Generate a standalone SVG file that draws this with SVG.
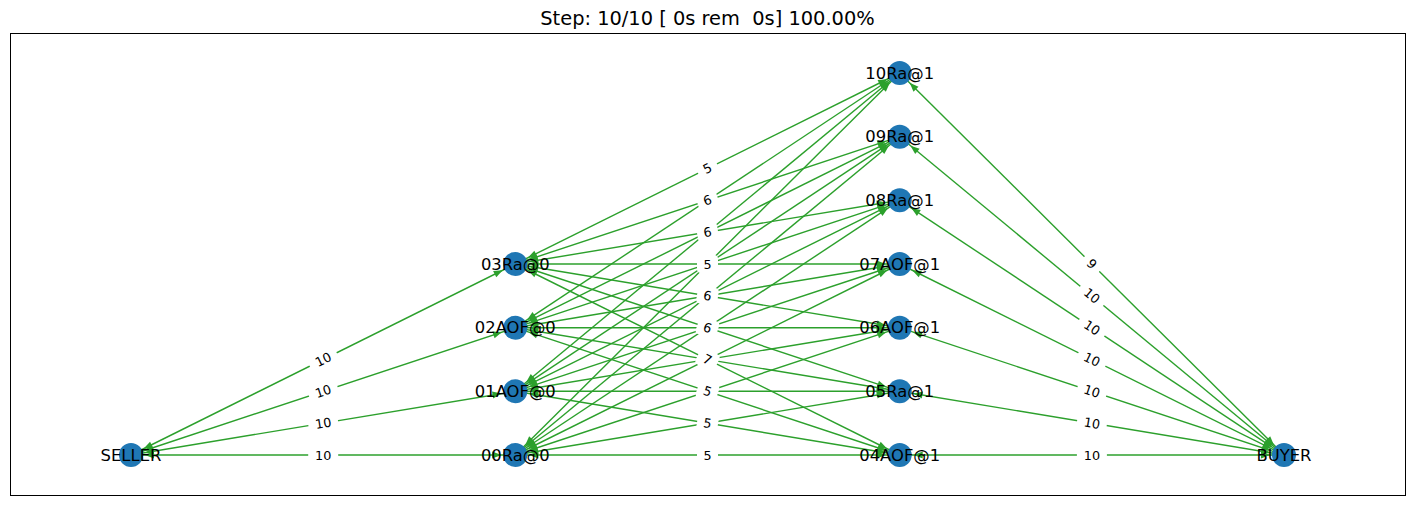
<svg xmlns="http://www.w3.org/2000/svg" width="1415" height="505" viewBox="0 0 1415 505">
<style>
.e{stroke:#2ca02c;stroke-width:1.4;fill:none;marker-start:url(#ah);marker-end:url(#ah)}
.n{fill:#1f77b4}
.nl{font-family:"DejaVu Sans","Liberation Sans",sans-serif;font-size:16.4px;fill:#000;text-anchor:middle;dominant-baseline:central}
.el text{font-family:"DejaVu Sans","Liberation Sans",sans-serif;font-size:12.8px;fill:#000;text-anchor:middle;dominant-baseline:central}
.el rect{fill:#fff}
.title{font-family:"DejaVu Sans","Liberation Sans",sans-serif;font-size:19.4px;fill:#000;text-anchor:middle;white-space:pre}
</style>
<defs>
<marker id="ah" markerUnits="userSpaceOnUse" markerWidth="24" markerHeight="8" refX="23" refY="3.5" orient="auto-start-reverse" overflow="visible">
<path d="M0,0 L9,3.5 L0,7 z" fill="#2ca02c"/>
</marker>
</defs>
<rect width="1415" height="505" fill="#fff"/>
<text class="title" x="707.5" y="25" xml:space="preserve">Step: 10/10 [ 0s rem  0s] 100.00%</text>
<rect x="10.5" y="33.5" width="1395" height="462" fill="none" stroke="#000" stroke-width="1"/>
<g id="edges">
<line class="e" x1="131" y1="455" x2="515.3" y2="455"/>
<line class="e" x1="131" y1="455" x2="515.3" y2="391.3"/>
<line class="e" x1="131" y1="455" x2="515.3" y2="327.7"/>
<line class="e" x1="131" y1="455" x2="515.3" y2="264"/>
<line class="e" x1="515.3" y1="455" x2="899.7" y2="455"/>
<line class="e" x1="515.3" y1="455" x2="899.7" y2="391.3"/>
<line class="e" x1="515.3" y1="455" x2="899.7" y2="327.7"/>
<line class="e" x1="515.3" y1="455" x2="899.7" y2="264"/>
<line class="e" x1="515.3" y1="455" x2="899.7" y2="200.3"/>
<line class="e" x1="515.3" y1="455" x2="899.7" y2="136.7"/>
<line class="e" x1="515.3" y1="455" x2="899.7" y2="73"/>
<line class="e" x1="515.3" y1="391.3" x2="899.7" y2="455"/>
<line class="e" x1="515.3" y1="391.3" x2="899.7" y2="391.3"/>
<line class="e" x1="515.3" y1="391.3" x2="899.7" y2="327.7"/>
<line class="e" x1="515.3" y1="391.3" x2="899.7" y2="264"/>
<line class="e" x1="515.3" y1="391.3" x2="899.7" y2="200.3"/>
<line class="e" x1="515.3" y1="391.3" x2="899.7" y2="136.7"/>
<line class="e" x1="515.3" y1="391.3" x2="899.7" y2="73"/>
<line class="e" x1="515.3" y1="327.7" x2="899.7" y2="455"/>
<line class="e" x1="515.3" y1="327.7" x2="899.7" y2="391.3"/>
<line class="e" x1="515.3" y1="327.7" x2="899.7" y2="327.7"/>
<line class="e" x1="515.3" y1="327.7" x2="899.7" y2="264"/>
<line class="e" x1="515.3" y1="327.7" x2="899.7" y2="200.3"/>
<line class="e" x1="515.3" y1="327.7" x2="899.7" y2="136.7"/>
<line class="e" x1="515.3" y1="327.7" x2="899.7" y2="73"/>
<line class="e" x1="515.3" y1="264" x2="899.7" y2="455"/>
<line class="e" x1="515.3" y1="264" x2="899.7" y2="391.3"/>
<line class="e" x1="515.3" y1="264" x2="899.7" y2="327.7"/>
<line class="e" x1="515.3" y1="264" x2="899.7" y2="264"/>
<line class="e" x1="515.3" y1="264" x2="899.7" y2="200.3"/>
<line class="e" x1="515.3" y1="264" x2="899.7" y2="136.7"/>
<line class="e" x1="515.3" y1="264" x2="899.7" y2="73"/>
<line class="e" x1="899.7" y1="455" x2="1284" y2="455"/>
<line class="e" x1="899.7" y1="391.3" x2="1284" y2="455"/>
<line class="e" x1="899.7" y1="327.7" x2="1284" y2="455"/>
<line class="e" x1="899.7" y1="264" x2="1284" y2="455"/>
<line class="e" x1="899.7" y1="200.3" x2="1284" y2="455"/>
<line class="e" x1="899.7" y1="136.7" x2="1284" y2="455"/>
<line class="e" x1="899.7" y1="73" x2="1284" y2="455"/>
</g>
<g id="node-SELLER"><circle class="n" cx="131" cy="455" r="12"/><text class="nl" x="131" y="455">SELLER</text></g>
<g id="node-00Ra0"><circle class="n" cx="515.3" cy="455" r="12"/><text class="nl" x="515.3" y="455">00Ra@0</text></g>
<g id="node-01AOF0"><circle class="n" cx="515.3" cy="391.3" r="12"/><text class="nl" x="515.3" y="391.3">01AOF@0</text></g>
<g id="node-02AOF0"><circle class="n" cx="515.3" cy="327.7" r="12"/><text class="nl" x="515.3" y="327.7">02AOF@0</text></g>
<g id="node-03Ra0"><circle class="n" cx="515.3" cy="264" r="12"/><text class="nl" x="515.3" y="264">03Ra@0</text></g>
<g id="node-04AOF1"><circle class="n" cx="899.7" cy="455" r="12"/><text class="nl" x="899.7" y="455">04AOF@1</text></g>
<g id="node-05Ra1"><circle class="n" cx="899.7" cy="391.3" r="12"/><text class="nl" x="899.7" y="391.3">05Ra@1</text></g>
<g id="node-06AOF1"><circle class="n" cx="899.7" cy="327.7" r="12"/><text class="nl" x="899.7" y="327.7">06AOF@1</text></g>
<g id="node-07AOF1"><circle class="n" cx="899.7" cy="264" r="12"/><text class="nl" x="899.7" y="264">07AOF@1</text></g>
<g id="node-08Ra1"><circle class="n" cx="899.7" cy="200.3" r="12"/><text class="nl" x="899.7" y="200.3">08Ra@1</text></g>
<g id="node-09Ra1"><circle class="n" cx="899.7" cy="136.7" r="12"/><text class="nl" x="899.7" y="136.7">09Ra@1</text></g>
<g id="node-10Ra1"><circle class="n" cx="899.7" cy="73" r="12"/><text class="nl" x="899.7" y="73">10Ra@1</text></g>
<g id="node-BUYER"><circle class="n" cx="1284" cy="455" r="12"/><text class="nl" x="1284" y="455">BUYER</text></g>
<g id="edge-labels" class="el">
<g transform="translate(323.2,359.5) rotate(-26.4)"><rect x="-15" y="-9" width="30" height="18" rx="4"/><text>10</text></g>
<g transform="translate(323.2,391.3) rotate(-18.3)"><rect x="-15" y="-9" width="30" height="18" rx="4"/><text>10</text></g>
<g transform="translate(323.2,423.2) rotate(-9.4)"><rect x="-15" y="-9" width="30" height="18" rx="4"/><text>10</text></g>
<g transform="translate(323.2,455)"><rect x="-15" y="-9" width="30" height="18" rx="4"/><text>10</text></g>
<g transform="translate(707.5,168.5) rotate(-26.4)"><rect x="-10.5" y="-9" width="21" height="18" rx="4"/><text>5</text></g>
<g transform="translate(707.5,200.3) rotate(-18.3)"><rect x="-10.5" y="-9" width="21" height="18" rx="4"/><text>6</text></g>
<g transform="translate(707.5,232.2) rotate(-9.4)"><rect x="-10.5" y="-9" width="21" height="18" rx="4"/><text>6</text></g>
<g transform="translate(707.5,264)"><rect x="-10.5" y="-9" width="21" height="18" rx="4"/><text>5</text></g>
<g transform="translate(707.5,295.8) rotate(9.4)"><rect x="-10.5" y="-9" width="21" height="18" rx="4"/><text>6</text></g>
<g transform="translate(707.5,327.7) rotate(18.3)"><rect x="-10.5" y="-9" width="21" height="18" rx="4"/><text>6</text></g>
<g transform="translate(707.5,359.5) rotate(26.4)"><rect x="-10.5" y="-9" width="21" height="18" rx="4"/><text>7</text></g>
<g transform="translate(707.5,391.3) rotate(18.3)"><rect x="-10.5" y="-9" width="21" height="18" rx="4"/><text>5</text></g>
<g transform="translate(707.5,423.2) rotate(9.4)"><rect x="-10.5" y="-9" width="21" height="18" rx="4"/><text>5</text></g>
<g transform="translate(707.5,455)"><rect x="-10.5" y="-9" width="21" height="18" rx="4"/><text>5</text></g>
<g transform="translate(1091.9,264) rotate(44.8)"><rect x="-10.5" y="-9" width="21" height="18" rx="4"/><text>9</text></g>
<g transform="translate(1091.9,295.8) rotate(39.6)"><rect x="-15" y="-9" width="30" height="18" rx="4"/><text>10</text></g>
<g transform="translate(1091.9,327.7) rotate(33.5)"><rect x="-15" y="-9" width="30" height="18" rx="4"/><text>10</text></g>
<g transform="translate(1091.9,359.5) rotate(26.4)"><rect x="-15" y="-9" width="30" height="18" rx="4"/><text>10</text></g>
<g transform="translate(1091.9,391.3) rotate(18.3)"><rect x="-15" y="-9" width="30" height="18" rx="4"/><text>10</text></g>
<g transform="translate(1091.9,423.2) rotate(9.4)"><rect x="-15" y="-9" width="30" height="18" rx="4"/><text>10</text></g>
<g transform="translate(1091.9,455)"><rect x="-15" y="-9" width="30" height="18" rx="4"/><text>10</text></g>
</g>
</svg>
